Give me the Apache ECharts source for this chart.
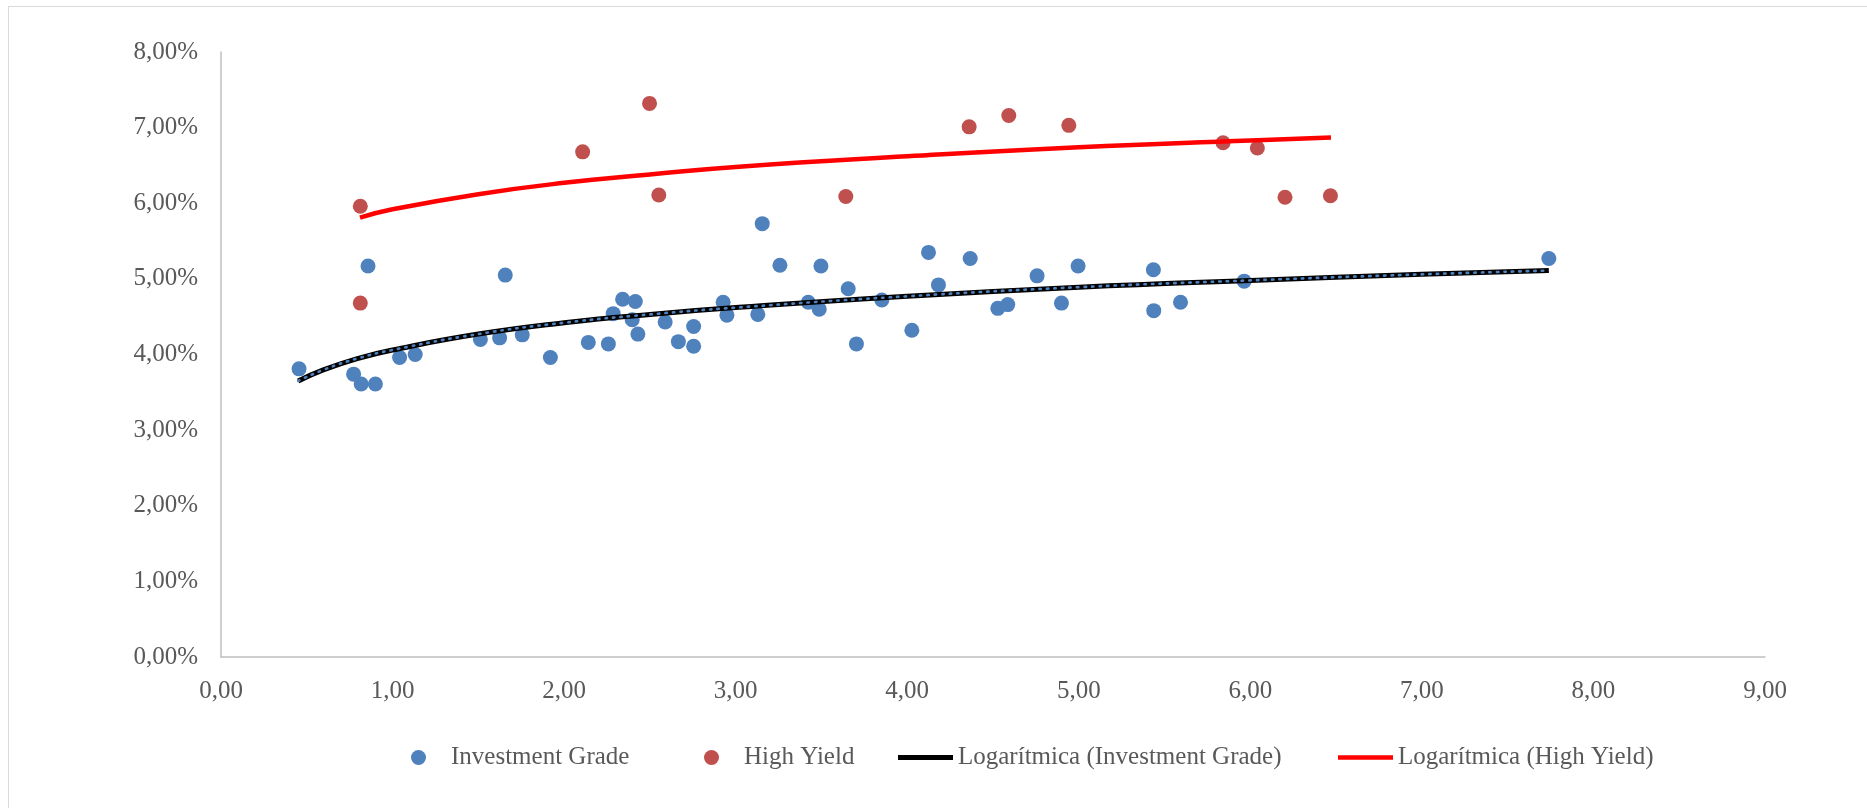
<!DOCTYPE html>
<html style="height: 100%">
<head>
    <meta charset="utf-8">
    <script src="https://cdn.jsdelivr.net/npm/echarts@6/dist/echarts.min.js"></script>
</head>
<body style="height: 100%; margin: 0; background: #fff">
<div id="frame" style="position: absolute; left: 8px; top: 6px; right: 0; bottom: 0; border-left: 1px solid #d9d9d9; border-top: 1px solid #d9d9d9"></div>
<div id="container" style="position: absolute; left: 0; top: 0; width: 1867px; height: 808px"></div>

<script type="text/javascript">
    // Investment Grade: duration, yield (%)
    var igX = [0.455, 0.773, 0.817, 0.857, 0.900, 1.041, 1.132, 1.512, 1.624, 1.657, 1.756, 1.920,
               2.141, 2.258, 2.286, 2.341, 2.397, 2.415, 2.430, 2.589, 2.666, 2.755, 2.755, 2.927,
               2.949, 3.129, 3.155, 3.258, 3.423, 3.487, 3.497, 3.656, 3.704, 3.852, 4.027, 4.124,
               4.182, 4.367, 4.528, 4.586, 4.757, 4.899, 4.996, 5.435, 5.437, 5.593, 5.964, 7.740];
    var igY = [3.81, 3.74, 3.61, 5.17, 3.61, 3.96, 4.00, 4.20, 4.22, 5.05, 4.26, 3.96,
               4.16, 4.14, 4.54, 4.73, 4.46, 4.70, 4.27, 4.43, 4.17, 4.37, 4.11, 4.69,
               4.52, 4.53, 5.73, 5.18, 4.69, 4.60, 5.17, 4.87, 4.14, 4.72, 4.32, 5.35,
               4.92, 5.27, 4.61, 4.66, 5.04, 4.68, 5.17, 5.12, 4.58, 4.69, 4.97, 5.27];

    // High Yield
    var hyX = [0.812, 0.812, 2.108, 2.498, 2.552, 3.642, 4.361, 4.592, 4.942, 5.841, 6.041, 6.202, 6.467];
    var hyY = [5.96, 4.68, 6.68, 7.32, 6.11, 6.09, 7.01, 7.16, 7.03, 6.80, 6.73, 6.08, 6.10];

    // trend lines
    var igTrendX = [0.45, 0.6, 0.8, 1.0, 1.5, 2.0, 2.5, 3.0, 4.0, 5.0, 6.0, 7.0, 7.74];
    var igTrendY = [3.65, 3.80, 3.95, 4.06, 4.27, 4.42, 4.53, 4.62, 4.77, 4.89, 4.98, 5.06, 5.11];
    var hyTrendX = [0.81, 1.0, 1.5, 2.0, 2.5, 3.0, 4.0, 5.0, 6.0, 6.47];
    var hyTrendY = [5.81, 5.92, 6.12, 6.27, 6.38, 6.48, 6.62, 6.74, 6.83, 6.87];

    var seriesNames = ['Investment Grade', 'High Yield', 'Logarítmica (Investment Grade)', 'Logarítmica (High Yield)'];

    function pairs(xs, ys) {
        return xs.map(function (x, i) { return [x, ys[i]]; });
    }
    function comma(v) {
        return v.toFixed(2).replace('.', ',');
    }

    var font = 'Liberation Serif';
    var textColor = '#595959';
    var axisLine = {show: true, lineStyle: {color: '#bfbfbf', width: 1.5}};

    // one legend per item so each sits where the original has it
    var legendLeft = [411, 704, 898, 1338];
    var legendIcon = [null, null, 'path://M0,0H55V5H0Z', 'path://M0,0H55V4.5H0Z'];
    var legends = seriesNames.map(function (name, i) {
        var item = {name: name};
        if (legendIcon[i]) {
            item.icon = legendIcon[i];
            item.itemStyle = {borderWidth: 0};
        }
        return {
            left: legendLeft[i],
            top: 745,
            padding: 0,
            itemWidth: 55,
            itemHeight: 15,
            selectedMode: false,
            textStyle: {fontFamily: font, fontSize: 25, color: textColor},
            data: [item]
        };
    });

    var myChart = echarts.init(document.getElementById('container'));
    myChart.setOption({
        animation: false,
        grid: {left: 221, right: 102, top: 52, bottom: 151, containLabel: false},
        legend: legends,
        xAxis: {
            type: 'value',
            min: 0, max: 9, interval: 1,
            axisLine: axisLine,
            axisTick: {show: false},
            splitLine: {show: false},
            axisLabel: {
                margin: 22,
                fontFamily: font, fontSize: 25, color: textColor,
                formatter: function (v) { return comma(v); }
            }
        },
        yAxis: {
            type: 'value',
            min: 0, max: 8, interval: 1,
            axisLine: axisLine,
            axisTick: {show: false},
            splitLine: {show: false},
            axisLabel: {
                margin: 23,
                fontFamily: font, fontSize: 25, color: textColor,
                formatter: function (v) { return comma(v) + '%'; }
            }
        },
        series: [
            {
                name: seriesNames[0],
                type: 'scatter',
                symbolSize: 15,
                itemStyle: {color: '#4f81bd', opacity: 1},
                data: pairs(igX, igY),
                z: 3
            },
            {
                name: seriesNames[1],
                type: 'scatter',
                symbolSize: 15,
                itemStyle: {color: '#c0504d', opacity: 1},
                data: pairs(hyX, hyY),
                z: 3
            },
            {
                name: seriesNames[2],
                type: 'line',
                smooth: true,
                showSymbol: false,
                symbol: 'none',
                lineStyle: {color: '#000000', width: 5},
                itemStyle: {color: '#000000'},
                data: pairs(igTrendX, igTrendY),
                z: 4
            },
            {
                // blue dots over the black trend line
                name: 'igDots',
                type: 'line',
                smooth: true,
                showSymbol: false,
                symbol: 'none',
                lineStyle: {color: '#4f81bd', width: 2.6, type: [1.5, 6], cap: 'round'},
                data: pairs(igTrendX, igTrendY),
                z: 5
            },
            {
                name: seriesNames[3],
                type: 'line',
                smooth: true,
                showSymbol: false,
                symbol: 'none',
                lineStyle: {color: '#ff0000', width: 4.5},
                itemStyle: {color: '#ff0000'},
                data: pairs(hyTrendX, hyTrendY),
                z: 4
            }
        ]
    });
</script>
</body>
</html>
